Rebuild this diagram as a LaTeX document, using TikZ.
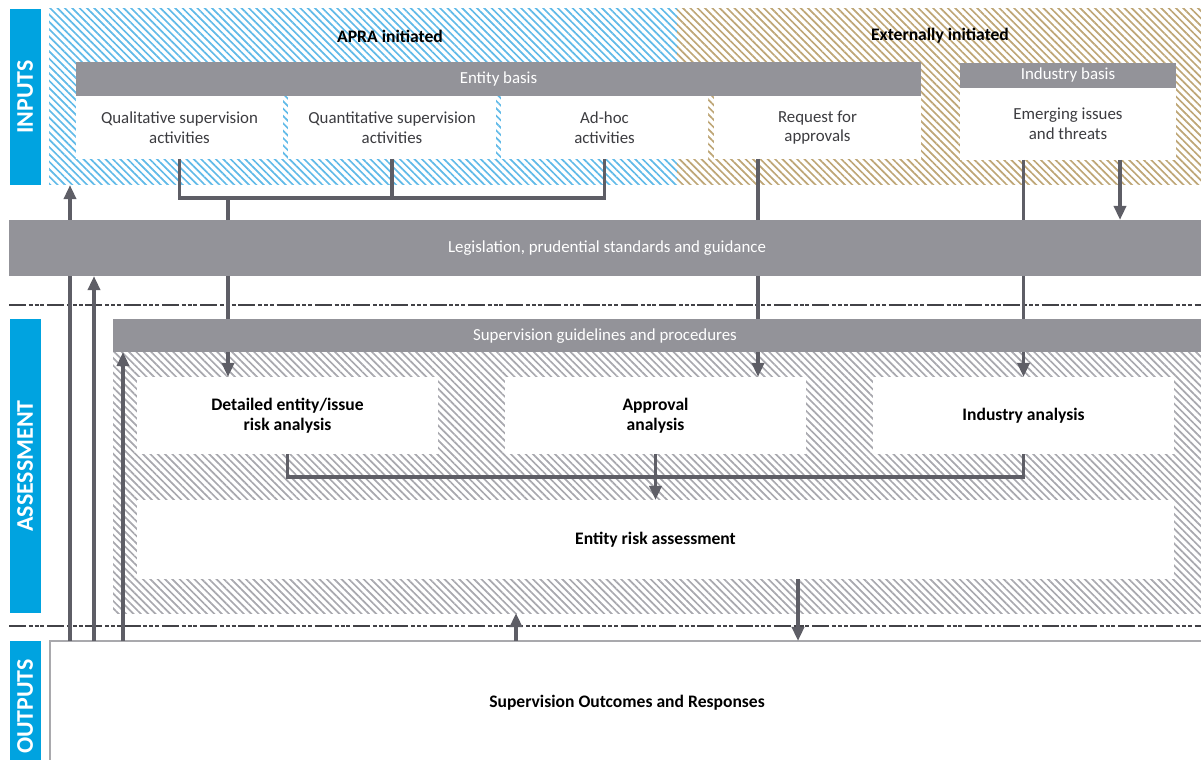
\documentclass[tikz,border=0pt]{standalone}
\usepackage{fontspec}
\setmainfont{Carlito}
\usepackage{tikz}
\usetikzlibrary{positioning,calc,patterns.meta,arrows.meta}
\definecolor{mysectblue}{RGB}{0,163,224}
\definecolor{mybargray}{RGB}{147,147,153}
\definecolor{mylinegray}{RGB}{94,94,102}
\definecolor{myhatchblue}{RGB}{96,186,232}
\definecolor{myhatchgold}{RGB}{190,166,118}
\definecolor{myhatchgray}{RGB}{168,168,174}
\definecolor{mytextgray}{RGB}{60,60,64}

\begin{document}
\begin{tikzpicture}[
  x=0.025cm, y=-0.025cm,
  font=\fontsize{12}{14}\selectfont,
  sized/.style 2 args={minimum width=#1*0.025cm, minimum height=#2*0.025cm},
  hatcharea/.style={
    inner sep=0pt,
    outer sep=0pt,
    pattern={Lines[angle=-45,distance=3.7pt,line width=1.2pt]},
    pattern color=#1
    },
  greybar/.style={inner sep=0pt, outer sep=0pt, fill=mybargray, text=white},
  bartext/.style={text=white},
  whitebox/.style={inner sep=0pt, outer sep=0pt, fill=white, text=mytextgray, align=center},
  assessbox/.style={whitebox, text=black, font=\fontsize{12.5}{14.5}\selectfont\bfseries},
  headtxt/.style={text=black, font=\fontsize{12.5}{14.5}\selectfont\bfseries},
  sectlbl/.style={
    inner sep=0pt,
    fill=mysectblue,
    text=white,
    font=\fontsize{17}{19}\selectfont\bfseries
    },
  linkline/.style={draw=mylinegray, line width=2.6pt},
  linkarrow/.style={linkline, -{Triangle[length=10pt,width=8.5pt]}},
  divline/.style={
    draw=mylinegray!70!black,
    line width=1pt,
    dash pattern=on 12pt off 2pt on 2.8pt off 1.4pt on 2.8pt off 1.4pt on 2.8pt off 2pt
    }
]
\useasboundingbox (0,0) rectangle (1201,760);
\clip (0,0) rectangle (1201,760);

\foreach \ytop/\ybot/\name/\lbl in {9/185/inlbl/INPUTS, 319/613/asslbl/ASSESSMENT, 641/772/outlbl/OUTPUTS}
  \node[sectlbl, rotate=90, minimum width={(\ybot-\ytop)*0.025cm}, minimum height=31*0.025cm]
    (\name) at (25,{(\ytop+\ybot)/2}) {\lbl};

\node[hatcharea=myhatchblue, sized={628}{176}] (apra) at (363,97) {};
\node[hatcharea=myhatchgold, sized={528}{176}] (ext) at (941,97) {};
\node[headtxt] (apratitle) at (390,36) {APRA initiated};
\node[headtxt] (exttitle) at (940,36) {Externally initiated};

\node[greybar, sized={845}{34}] (entity) at (498.5,79) {Entity basis};
\node[whitebox, sized={207}{63}] (qual) at (179.5,127.5) {Qualitative supervision\\activities};
\node[whitebox, sized={208}{63}] (quant) at (392,127.5) {Quantitative supervision\\activities};
\node[whitebox, sized={207}{63}] (adhoc) at (604.5,127.5) {Ad-hoc\\activities};
\node[whitebox, sized={207}{63}] (req) at (817.5,127.5) {Request for\\approvals};
\node[greybar, sized={216}{25}] (indbasis) at (1068,75.5) {Industry basis};
\node[whitebox, sized={216}{72}] (emerge) at (1068,124) {Emerging issues\\and threats};

\node[greybar, sized={1196}{56}] (leg) at (607,248) {Legislation, prudential standards and guidance};

\draw[divline] (9,305) -- (1201,305);
\draw[divline] (9,626) -- (1201,626);

\node[greybar, sized={1092}{33}] (sgl) at (659,335.5) {};
\node[bartext] (sgltext) at (605,336) {Supervision guidelines and procedures};
\node[hatcharea=myhatchgray, sized={1092}{261}] (asm) at (659,482.5) {};
\node[assessbox, sized={301}{77}] (detail) at (287.5,415.5) {Detailed entity/issue\\risk analysis};
\node[assessbox, sized={301}{77}] (appr) at (655.5,415.5) {Approval\\analysis};
\node[assessbox, sized={301}{77}] (indus) at (1023.5,415.5) {Industry analysis};
\node[assessbox, sized={1037}{79}] (era) at (655.5,539.5) {Entity risk assessment};

\node[whitebox, draw=mybargray!80, line width=0.8pt, sized={1165}{134}] (out) at (632.5,708) {};
\node[headtxt] (outtext) at (627,703) {Supervision Outcomes and Responses};

\coordinate (injoin) at (228,198);
\coordinate (reqline) at (758,0);
\coordinate (emarrow) at (1120,0);
\coordinate (asjoin) at (0,477);
\coordinate (eraout) at (798,0);
\coordinate (outup) at (516,0);

\draw[linkline] (qual.south) |- (injoin) -| (adhoc.south);
\draw[linkline] (quant.south) -- (quant.south |- injoin);
\draw[linkline] (injoin) -- (injoin |- leg.north);
\draw[linkline] (injoin |- leg.south) -- (injoin |- sgl.north);
\draw[linkarrow] (injoin |- sgl.south) -- (injoin |- detail.north);

\draw[linkline] (reqline |- req.south) -- (reqline |- leg.north);
\draw[linkline] (reqline |- leg.south) -- (reqline |- sgl.north);
\draw[linkarrow] (reqline |- sgl.south) -- (reqline |- appr.north);

\draw[linkline] (indus.north |- emerge.south) -- (indus.north |- leg.north);
\draw[linkline] (indus.north |- leg.south) -- (indus.north |- sgl.north);
\draw[linkarrow] (indus.north |- sgl.south) -- (indus.north);
\draw[linkarrow] (emarrow |- emerge.south) -- (emarrow |- leg.north);

\draw[linkline] (detail.south) |- (indus.south |- asjoin) -- (indus.south);
\draw[linkarrow] (appr.south) -- (era.north);
\draw[linkarrow] (eraout |- era.south) -- (eraout |- out.north);
\draw[linkarrow] (outup |- out.north) -- (outup |- asm.south);

\draw[linkline] (70,0 |- out.north) -- (70,0 |- leg.south);
\draw[linkarrow] (70,0 |- leg.north) -- (70,0 |- apra.south);
\draw[linkarrow] (94,0 |- out.north) -- (94,0 |- leg.south);
\draw[linkarrow] (123,0 |- out.north) -- (123,0 |- sgl.south);

\end{tikzpicture}
\end{document}
